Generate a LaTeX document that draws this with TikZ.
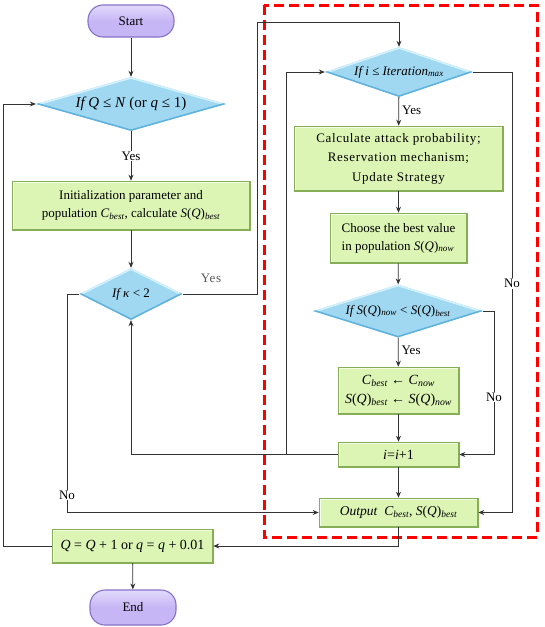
\documentclass[tikz,border=0pt]{standalone}
\usepackage{fontspec}
\setmainfont{Liberation Serif}
\usetikzlibrary{shapes.geometric,arrows.meta,calc}
\definecolor{boxfill}{HTML}{DCF5B4}
\definecolor{boxedge}{HTML}{86AE56}
\definecolor{boxhi}{HTML}{F2FFE2}
\definecolor{diafill}{HTML}{A0D8F2}
\definecolor{diaedge}{HTML}{5FB2DC}
\definecolor{diahi}{HTML}{D2F0FC}
\definecolor{pillfill}{HTML}{C6B6F5}
\definecolor{pilledge}{HTML}{8672C8}
\definecolor{pillhi}{HTML}{E2DAFC}
\definecolor{linecol}{HTML}{333333}
\newcommand{\sbi}[1]{\textsubscript{\itshape #1}}
\newcommand{\ii}[1]{\textit{#1}}
\tikzset{
  pill/.style={rectangle, rounded corners=15pt, top color=pillhi, bottom color=pillfill, middle color=pillfill, draw=pilledge, line width=1.1pt, inner sep=0pt, font=\fontsize{13}{15}\selectfont},
  gbox/.style={rectangle, fill=boxfill, draw=boxedge, line width=0.6pt, inner sep=0pt, align=center, font=\fontsize{13}{18}\selectfont,
    path picture={
      \draw[boxhi, line width=3pt] (path picture bounding box.south west) -- (path picture bounding box.north west) -- (path picture bounding box.north east);
      \draw[boxedge, line width=3pt] (path picture bounding box.south west) -- (path picture bounding box.south east) -- (path picture bounding box.north east);
    }},
  dia/.style={diamond, aspect=4, fill=diafill, inner sep=0pt, font=\fontsize{13}{15}\selectfont,
    path picture={
      \coordinate (pN) at ($(path picture bounding box.north west)!.5!(path picture bounding box.north east)$);
      \coordinate (pS) at ($(path picture bounding box.south west)!.5!(path picture bounding box.south east)$);
      \coordinate (pW) at ($(path picture bounding box.south west)!.5!(path picture bounding box.north west)$);
      \coordinate (pE) at ($(path picture bounding box.south east)!.5!(path picture bounding box.north east)$);
      \draw[diahi, line width=3.5pt] (pW) -- (pN) -- (pE);
      \draw[diaedge, line width=3pt] (pW) -- (pS) -- (pE);
    }},
  conn/.style={draw=linecol, line width=0.8pt},
  arr/.style={conn, -{Stealth[length=6pt,width=5pt]}},
  lbl/.style={font=\fontsize{13}{15}\selectfont, fill=white, inner sep=1pt},
}
\begin{document}
\begin{tikzpicture}[x=1pt,y=-1pt]
\useasboundingbox (0,0) rectangle (545,627);
% red dashed frame
\draw[red, line width=3pt, dash pattern=on 10pt off 5pt] (264,5) rectangle (537,537);
% nodes
\node[pill, minimum width=86pt, minimum height=32pt] (start) at (131,21) {Start};
\node[dia, minimum width=190pt, minimum height=54pt, font=\fontsize{15}{17}\selectfont] (d1) at (131,104) {\ii{If Q} ≤ \ii{N} (or \ii{q} ≤ 1)};
\node[gbox, minimum width=238pt, minimum height=49pt] (b1) at (131,205.5) {Initialization parameter and\\population \ii{C}\sbi{best}, calculate \ii{S}(\ii{Q})\sbi{best}};
\node[dia, minimum width=103pt, minimum height=52pt] (d2) at (131,294) {\ii{If κ} < 2};
\node[dia, minimum width=148pt, minimum height=50pt] (d3) at (399,72) {\ii{If i} ≤ \ii{Iteration}\sbi{max}};
\node[gbox, minimum width=209pt, minimum height=65pt, font=\fontsize{13}{19.5}\selectfont\addfontfeature{LetterSpace=5}] (b2) at (398.5,158.5) {Calculate attack probability;\\Reservation mechanism;\\Update Strategy};
\node[gbox, minimum width=137pt, minimum height=50pt, align=left] (b3) at (398.5,238) {Choose the best value\\in population \ii{S}(\ii{Q})\sbi{now}};
\node[dia, minimum width=170pt, minimum height=53pt] (d4) at (398,311) {\ii{If S}(\ii{Q})\sbi{now} < \ii{S}(\ii{Q})\sbi{best}};
\node[gbox, minimum width=121pt, minimum height=47pt, font=\fontsize{14}{19}\selectfont] (b4) at (398.5,390.5) {\ii{C}\sbi{best} ← \ii{C}\sbi{now}\\\ii{S}(\ii{Q})\sbi{best} ← \ii{S}(\ii{Q})\sbi{now}};
\node[gbox, minimum width=121pt, minimum height=25pt, font=\fontsize{14}{16}\selectfont] (b5) at (398.5,454.5) {\ii{i}=\ii{i}+1};
\node[gbox, minimum width=159pt, minimum height=29pt, font=\fontsize{13.5}{16}\selectfont] (b6) at (398.5,512.5) {\ii{Output}\ \ \ii{C}\sbi{best}, \ii{S}(\ii{Q})\sbi{best}};
\node[gbox, minimum width=161pt, minimum height=34pt, font=\fontsize{14}{16}\selectfont] (b7) at (132.5,546) {\ii{Q} = \ii{Q} + 1 or \ii{q} = \ii{q} + 0.01};
\node[pill, minimum width=86pt, minimum height=35pt] (end) at (133,607.5) {End};
% helper coordinates
\coordinate (c1) at (257,294);
\coordinate (c2) at (257,22);
\coordinate (c3) at (399,22);
\coordinate (c4) at (494,311);
\coordinate (c5) at (494,454.5);
\coordinate (c6) at (512,72);
\coordinate (c7) at (512,512.5);
\coordinate (c8) at (131,454.5);
\coordinate (c9) at (286,454.5);
\coordinate (c10) at (286,72);
\coordinate (c11) at (67,294);
\coordinate (c12) at (67,512.5);
\coordinate (c13) at (398.5,546);
\coordinate (c14) at (3,546);
\coordinate (c15) at (3,104);
% connectors
\draw[arr] (start) -- (d1);
\draw[arr] (d1) -- node[lbl] {Yes} (b1);
\draw[arr] (b1) -- (d2);
\draw[arr] (d2.east) -- (c1) -- (c2) -- (c3) -- (d3.north);
\node[font=\fontsize{13}{15}\selectfont\addfontfeature{LetterSpace=5}, text=black!65] (yes2) at (211,278) {Yes};
\draw[arr] (d3) -- node[right, font=\fontsize{13}{15}\selectfont, inner sep=3pt, pos=0.45] {Yes} (b2);
\draw[arr] (b2) -- (b3);
\draw[arr] (b3) -- (d4);
\draw[arr] (d4) -- node[right, font=\fontsize{13}{15}\selectfont, inner sep=3pt, pos=0.45] {Yes} (b4);
\draw[arr] (b4) -- (b5);
\draw[arr] (b5) -- (b6);
\draw[arr] (d4.east) -- (c4) -- node[lbl, pos=0.6] {No} (c5) -- (b5.east);
\draw[arr] (d3.east) -- (c6) -- node[lbl, pos=0.48] {No} (c7) -- (b6.east);
\draw[arr] (b5.west) -- (c8) -- (d2.south);
\draw[arr] (c9) -- (c10) -- (d3.west);
\draw[arr] (d2.west) -- (c11) -- node[lbl, pos=0.92] {No} (c12) -- (b6.west);
\draw[arr] (b6.south) -- (c13) -- (b7.east);
\draw[arr] (b7.west) -- (c14) -- (c15) -- (d1.west);
\draw[arr] (b7) -- (end);
\end{tikzpicture}
\end{document}
